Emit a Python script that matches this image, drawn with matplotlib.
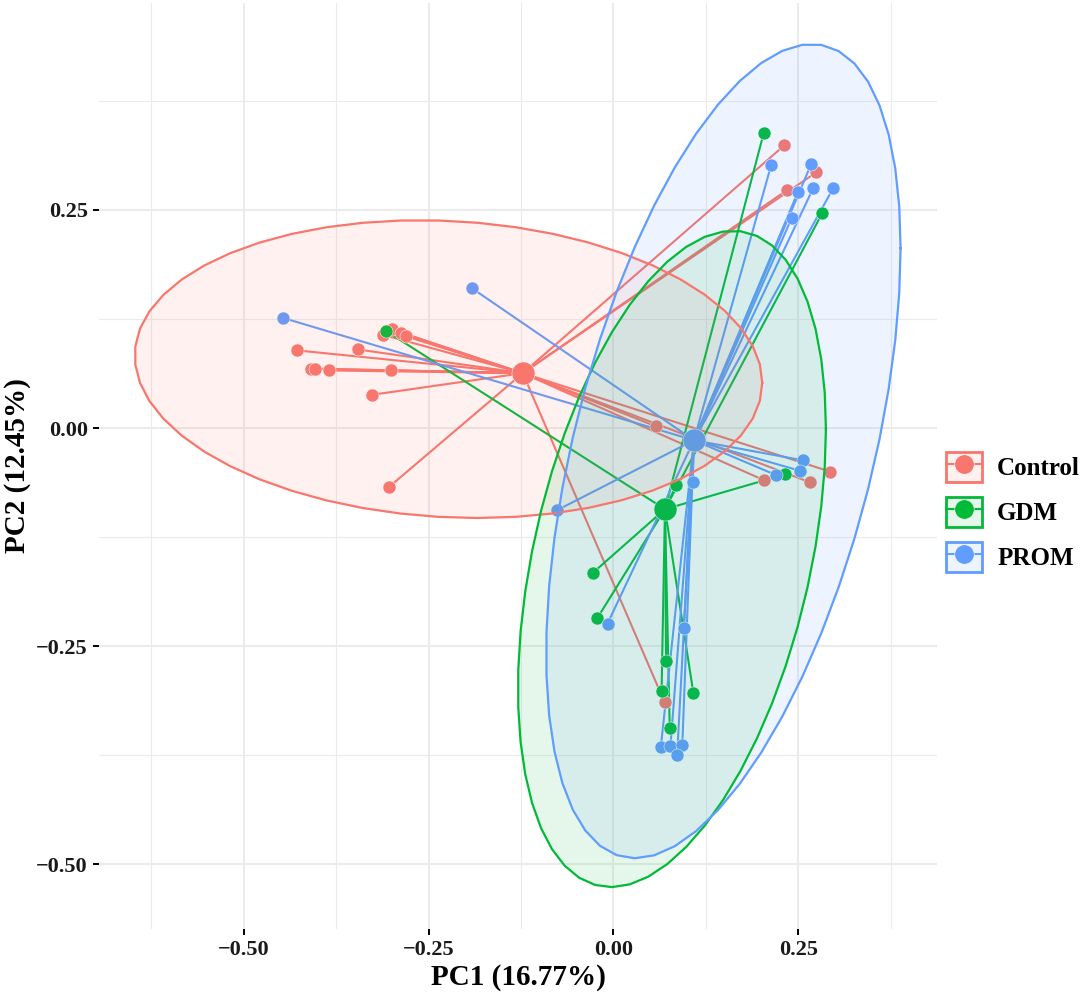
import numpy as np
import matplotlib
matplotlib.use("Agg")
import matplotlib.pyplot as plt
from matplotlib.lines import Line2D
from matplotlib.patches import Patch

plt.rcParams['font.family'] = ['Liberation Serif', 'DejaVu Serif']
plt.rcParams['font.weight'] = 'bold'

# PCA scores
control_pc1 = [-0.428, -0.345, -0.409, -0.403, -0.385, -0.301, -0.327,
               -0.312, -0.299, -0.287, -0.280, -0.304, 0.057,
               0.204, 0.265, 0.293, 0.069, 0.231, 0.274, 0.235]
control_pc2 = [0.089, 0.090, 0.068, 0.068, 0.066, 0.066, 0.038,
               0.107, 0.113, 0.109, 0.105, -0.068, 0.002,
               -0.060, -0.062, -0.050, -0.314, 0.324, 0.293, 0.273]

gdm_pc1 = [-0.307, 0.203, 0.282, 0.085, 0.232, -0.028, -0.022,
           0.071, 0.065, 0.108, 0.076]
gdm_pc2 = [0.111, 0.338, 0.246, -0.065, -0.053, -0.166, -0.218,
           -0.267, -0.301, -0.304, -0.344]

prom_pc1 = [-0.446, -0.191, 0.213, 0.267, 0.249, 0.270, 0.297, 0.241,
            -0.076, 0.107, 0.256, 0.252, 0.220, -0.008, 0.095,
            0.064, 0.077, 0.093, 0.086]
prom_pc2 = [0.126, 0.160, 0.301, 0.302, 0.270, 0.275, 0.275, 0.241,
            -0.094, -0.062, -0.037, -0.049, -0.054, -0.224, -0.229,
            -0.365, -0.364, -0.363, -0.375]

# confidence ellipses (centre + shape matrix)
ell_centers = [(-0.223, 0.0675), (0.079, -0.150), (0.1485, -0.0265)]
ell_shapes = [[[0.1798, -0.0066], [-0.0066, 0.0291]],
              [[0.0433, 0.0310], [0.0310, 0.1414]],
              [[0.05736, 0.0557], [0.0557, 0.2176]]]

groups = ['Control', 'GDM', 'PROM']
colors = ['#F8766D', '#00BA38', '#619CFF']
xlab = 'PC1 (16.77%)'
ylab = 'PC2 (12.45%)'


def ellipse_pts(center, shape, segments=51):
    # same construction as ggplot's stat_ellipse: unit circle through chol(shape)
    ang = np.arange(segments + 1) * 2 * np.pi / segments
    circ = np.column_stack([np.cos(ang), np.sin(ang)])
    R = np.linalg.cholesky(np.array(shape)).T
    return np.array(center) + circ @ R


fig = plt.figure(figsize=(10.84, 9.94), dpi=100)
ax = fig.add_axes([99 / 1084, 65 / 994, 838 / 1084, 926 / 994])

data = [(control_pc1, control_pc2), (gdm_pc1, gdm_pc2), (prom_pc1, prom_pc2)]

# spider segments to group centroid
for (px, py), c in zip(data, colors):
    cx, cy = np.mean(px), np.mean(py)
    for a, b in zip(px, py):
        ax.plot([cx, a], [cy, b], color=c, lw=1.5, zorder=2, solid_capstyle='butt')

for (px, py), c in zip(data, colors):
    ax.scatter(px, py, s=88, color=c, edgecolors='white', linewidths=0.4, zorder=3)
    ax.scatter([np.mean(px)], [np.mean(py)], s=275, color=c,
               edgecolors='white', linewidths=0.4, zorder=3)

# ellipses on top, like ggplot layer order
for cen, shp, c in zip(ell_centers, ell_shapes, colors):
    e = ellipse_pts(cen, shp)
    ax.fill(e[:, 0], e[:, 1], facecolor=c, alpha=0.1, edgecolor='none', zorder=4)
    ax.plot(e[:, 0], e[:, 1], color=c, lw=1.6, zorder=5)

ax.set_xlim(-0.6953, 0.4372)
ax.set_ylim(-0.574, 0.487)
ax.set_xticks([-0.5, -0.25, 0, 0.25])
ax.set_xticklabels(['\u22120.50', '\u22120.25', '0.00', '0.25'])
ax.set_yticks([-0.5, -0.25, 0, 0.25])
ax.set_yticklabels(['\u22120.50', '\u22120.25', '0.00', '0.25'])
ax.set_xticks([-0.625, -0.375, -0.125, 0.125, 0.375], minor=True)
ax.set_yticks([-0.375, -0.125, 0.125, 0.375], minor=True)
ax.grid(which='major', color='#EBEBEB', lw=1.5, zorder=0)
ax.grid(which='minor', color='#EBEBEB', lw=0.8, zorder=0)
ax.set_axisbelow(True)
for s in ax.spines.values():
    s.set_visible(False)
ax.tick_params(which='major', length=4, width=1.4, color='black',
               labelsize=16, labelcolor='#1a1a1a', pad=4)
ax.tick_params(which='minor', length=0)
for lab in ax.get_xticklabels() + ax.get_yticklabels():
    lab.set_fontweight('bold')

ax.set_xlabel(xlab, fontsize=21, fontweight='bold', labelpad=3)
ax.set_ylabel(ylab, fontsize=21, fontweight='bold', labelpad=4)

handles = []
for c in colors:
    handles.append((Patch(facecolor=c, alpha=0.1, edgecolor='none'),
                    Patch(facecolor='none', edgecolor=c, lw=2),
                    Line2D([], [], color=c, lw=1.5, marker='o', ms=14,
                           markeredgecolor='white', markeredgewidth=0.4)))
leg = fig.legend(handles, groups, loc='center left',
                 bbox_to_anchor=(946 / 1084, 1 - 512 / 994),
                 bbox_transform=fig.transFigure, frameon=False,
                 fontsize=18, handlelength=1.45, handleheight=1.45,
                 labelspacing=0.62, handletextpad=0.6, borderpad=0,
                 borderaxespad=0)
for t in leg.get_texts():
    t.set_fontweight('bold')

fig.savefig('out.png', dpi=100)
